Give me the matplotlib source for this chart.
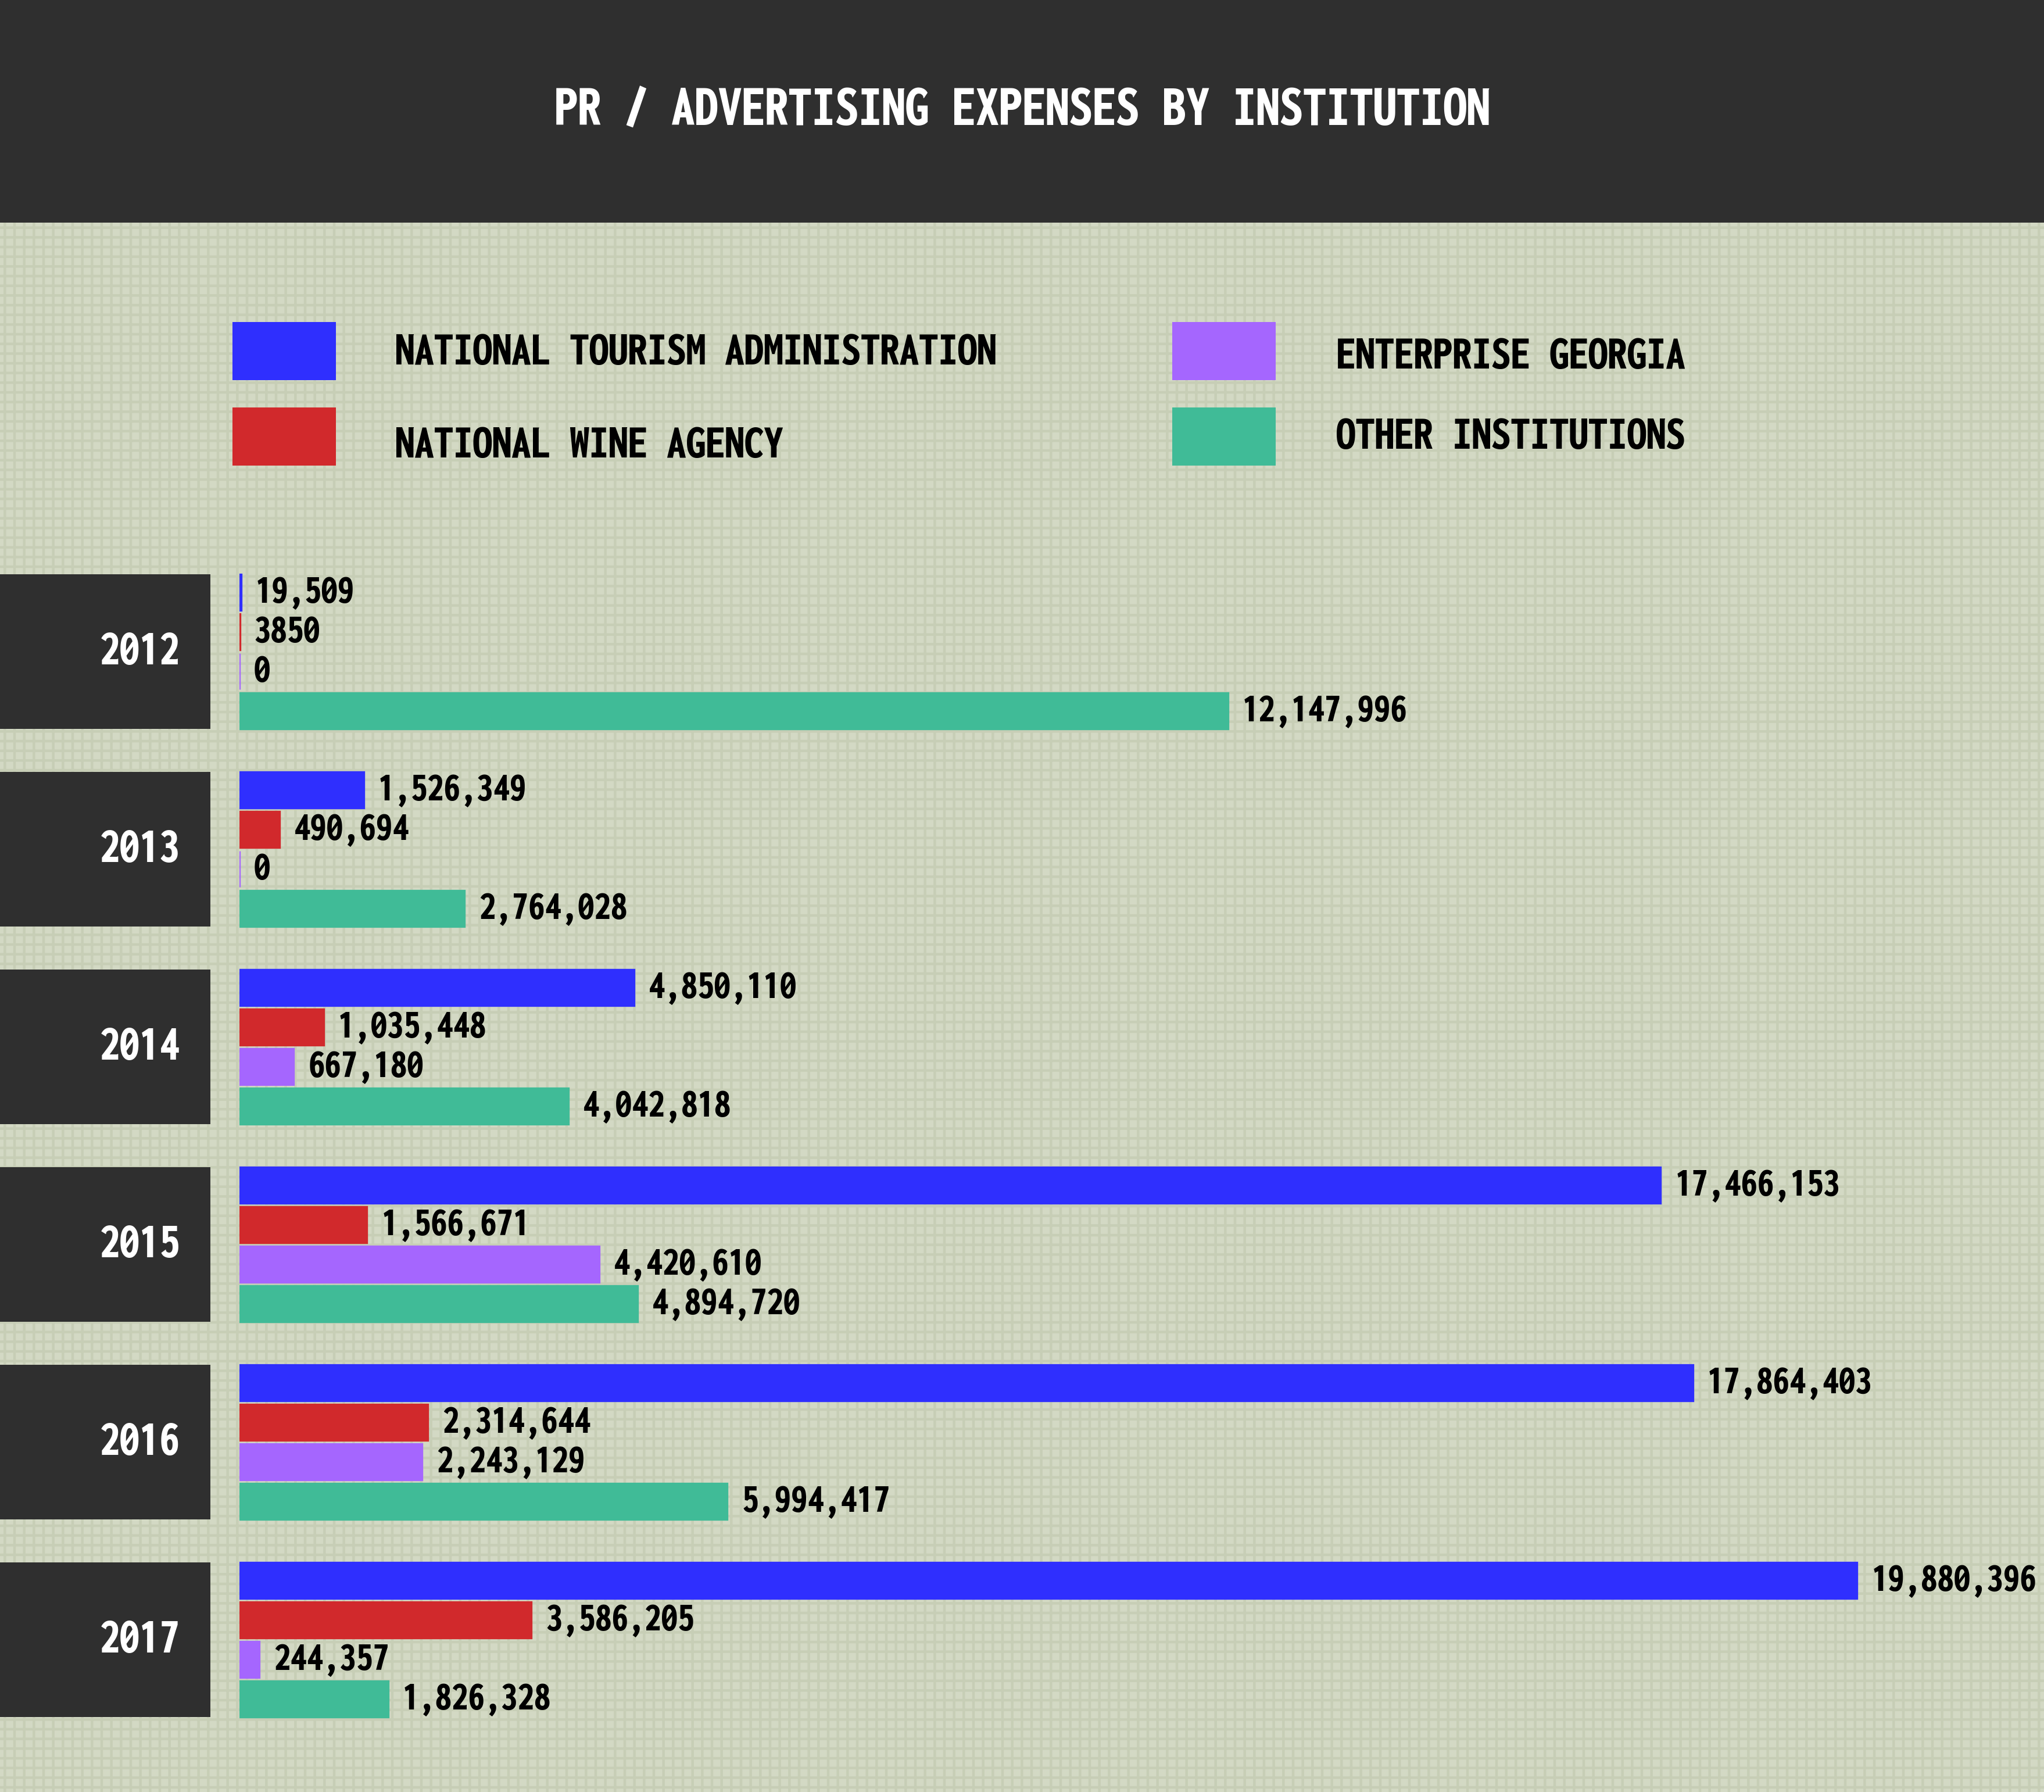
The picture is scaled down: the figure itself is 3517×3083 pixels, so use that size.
import matplotlib
matplotlib.use('Agg')
import matplotlib.pyplot as plt
import matplotlib.transforms as mtransforms
from matplotlib import font_manager
from matplotlib.patches import Rectangle

years = ['2012', '2013', '2014', '2015', '2016', '2017']
series = ['NATIONAL TOURISM ADMINISTRATION', 'NATIONAL WINE AGENCY',
          'ENTERPRISE GEORGIA', 'OTHER INSTITUTIONS']
tourism = [19509, 1526349, 4850110, 17466153, 17864403, 19880396]
wine = [3850, 490694, 1035448, 1566671, 2314644, 3586205]
enterprise = [0, 0, 667180, 4420610, 2243129, 244357]
other = [12147996, 2764028, 4042818, 4894720, 5994417, 1826328]
colors = ['#2f2ffe', '#d1292c', '#a566fe', '#40bb97']

title = 'PR / ADVERTISING EXPENSES BY INSTITUTION'

DARK = '#2f2f2f'
BG = '#d3d9c4'


def weight_num(w):
    return w if isinstance(w, int) else font_manager.weight_dict.get(w, 400)


# the original uses a tall, bold, condensed face; take the boldest narrow one installed
narrow = ('condensed', 'semi-condensed', 'extra-condensed', 'ultra-condensed')
cands = [f for f in font_manager.fontManager.ttflist
         if f.style == 'normal' and 'Mono' not in f.name
         and ('Narrow' in f.name or 'Condensed' in f.name or f.stretch in narrow)]
if cands:
    best = max(cands, key=lambda f: (min(weight_num(f.weight), 900), -len(f.name)))
    FP = font_manager.FontProperties(fname=best.fname)
else:
    FP = font_manager.FontProperties(family='DejaVu Sans', weight='bold')

plt.rcParams['hatch.linewidth'] = 1.6

W, H, DPI = 3517, 3083, 200


def fx(px):
    return px / W


def fy(py):
    return 1 - py / H


fig = plt.figure(figsize=(W / DPI, H / DPI), dpi=DPI, facecolor=BG)
renderer = fig.canvas.get_renderer()


def fit(texts, target_px, max_size):
    # one size for the group, chosen so the first text gets the reference width
    w = texts[0].get_window_extent(renderer).width
    size = min(max_size, texts[0].get_fontsize() * target_px / w)
    for t in texts:
        t.set_fontsize(size)


# light woven texture on the background
fig.add_artist(Rectangle((0, 0), 1, fy(383), transform=fig.transFigure, zorder=-5,
                         facecolor='none', edgecolor='#c7ceb6', hatch='++', lw=0))

# header band
fig.add_artist(Rectangle((0, fy(383)), 1, 383 / H, transform=fig.transFigure,
                         facecolor=DARK, edgecolor='none', zorder=-4))
t_title = fig.text(0.5, fy(190), title, color='white', fontproperties=FP,
                   fontsize=30, ha='center', va='center')
fit([t_title], 1611, 37)

# legend
legend_pos = [(400, 554, 680), (400, 701, 680), (2017, 554, 2299), (2017, 701, 2299)]
text_y = [606, 766, 613, 751]
legend_texts = []
for (x0, y0, tx), ty, name, c in zip(legend_pos, text_y, series, colors):
    fig.add_artist(Rectangle((fx(x0), fy(y0 + 100)), 178 / W, 100 / H,
                             transform=fig.transFigure, facecolor=c, edgecolor='none'))
    legend_texts.append(fig.text(fx(tx), fy(ty), name, fontproperties=FP, fontsize=26,
                                 ha='left', va='center', color='black'))
fit(legend_texts, 1097, 30)

# bars: one slot = 68 px, group pitch = 5 slots, first bar centre at y=1019 px
LEFT = 412
SLOT = 68
Y0 = 1019
PX_PER_M = 140

ax = fig.add_axes([fx(LEFT), 0, 1 - fx(LEFT), 1])
ax.set_xlim(0, (W - LEFT) / PX_PER_M * 1e6)
ax.set_ylim((H - Y0) / SLOT, -Y0 / SLOT)
ax.axis('off')
ax.patch.set_alpha(0)

bh = 62 / SLOT
trans = mtransforms.blended_transform_factory(fig.transFigure, ax.transData)

year_texts = []
value_texts = []
for i, year in enumerate(years):
    base = 5 * i
    ax.add_patch(Rectangle((0, base - bh / 2), fx(362), 3 + bh, transform=trans,
                           facecolor=DARK, edgecolor='none', clip_on=False))
    year_texts.append(ax.text(fx(241), base + 1.5, year, transform=trans,
                              color='white', fontproperties=FP, fontsize=31,
                              ha='center', va='center'))
    for j, vals in enumerate([tourism, wine, enterprise, other]):
        v = vals[i]
        ax.barh(base + j, v, height=bh, color=colors[j], edgecolor=colors[j], lw=1.2)
        label = f'{v:,}' if v >= 10000 else str(v)
        value_texts.append(ax.annotate(label, (v, base + j), xytext=(9, 0),
                                       textcoords='offset points', fontproperties=FP,
                                       fontsize=25, ha='left', va='center',
                                       color='black'))

fit(year_texts, 157, 31)
# widest label, 19,880,396, is about 284 px wide in the reference
value_texts.insert(0, value_texts.pop(4 * 5))
fit(value_texts, 284, 26)

fig.savefig('out.png', dpi=DPI, facecolor=BG)
